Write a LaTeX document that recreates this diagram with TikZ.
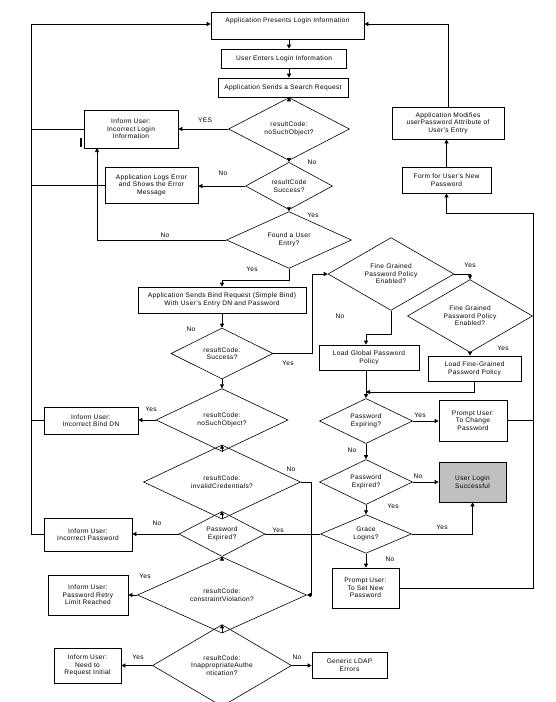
\documentclass[tikz,border=0pt]{standalone}
\usepackage{fontspec}
\setmainfont{Liberation Sans}[LetterSpace=5]
\usetikzlibrary{arrows.meta,shapes.geometric}
\begin{document}
\begin{tikzpicture}[x=1pt,y=-1pt,
  font=\fontsize{6.6}{7.6}\selectfont,
  line width=0.7pt,
  box/.style={draw, rectangle, align=center, inner sep=1pt},
  dia/.style={draw, diamond, align=center, inner sep=0pt, line width=0.6pt},
  lbl/.style={inner sep=0pt},
  arr/.style={-{Triangle[length=4pt,width=4pt]}},
]
\useasboundingbox[fill=white] (0,0) rectangle (555,702);

% ---------- boxes ----------
\node[box, minimum width=153pt, inner ysep=2pt, text height=8.5pt, text depth=14.5pt] (top) at (287.5,25.5) {Application Presents Login Information};
\node[box, minimum width=125pt, minimum height=19pt] (userEnters) at (284,58.5) {User Enters Login Information};
\node[box, minimum width=130pt, minimum height=19pt] (appSends) at (283,87.5) {Application Sends a Search Request};
\node[box, minimum width=94pt, minimum height=38pt] (incLogin) at (131,129) {Inform User:\\Incorrect Login\\Information};
\node[box, minimum width=93pt, minimum height=36pt] (appLogs) at (151.5,185) {Application Logs Error\\and Shows the Error\\Message};
\node[box, minimum width=168pt, minimum height=26pt] (bind) at (222,300) {Application Sends Bind Request (Simple Bind)\\With User's Entry DN and Password};
\node[box, minimum width=100pt, minimum height=25pt] (loadGlobal) at (369,357.5) {Load Global Password\\Policy};
\node[box, minimum width=93pt, minimum height=25pt] (loadFG) at (474.5,368.5) {Load Fine-Grained\\Password Policy};
\node[box, minimum width=68pt, minimum height=41pt] (promptChange) at (473,420.5) {Prompt User:\\To Change\\Password};
\node[box, minimum width=67pt, minimum height=40pt, fill={rgb,255:red,192;green,192;blue,192}] (userLogin) at (472.5,482) {User Login\\Successful};
\node[box, minimum width=67pt, minimum height=40pt] (promptSet) at (365.5,588) {Prompt User:\\To Set New\\Password};
\node[box, minimum width=112pt, minimum height=32pt] (appModifies) at (448,123) {Application Modifies\\userPassword Attribute of\\User's Entry};
\node[box, minimum width=89pt, minimum height=26pt] (form) at (446.5,180) {Form for User's New\\Password};
\node[box, minimum width=94pt, minimum height=27pt] (incBindDN) at (91,420.5) {Inform User:\\Incorrect Bind DN};
\node[box, minimum width=88pt, minimum height=33pt] (incPassword) at (88,534.5) {Inform User:\\Incorrect Password};
\node[box, minimum width=80pt, minimum height=40pt] (retry) at (88,595) {Inform User:\\Password Retry\\Limit Reached};
\node[box, minimum width=67pt, minimum height=35pt] (needInitial) at (87.5,665.5) {Inform User:\\Need to\\Request Initial};
\node[box, minimum width=75pt, minimum height=26pt] (generic) at (349.5,665) {Generic LDAP\\Errors};

% ---------- diamonds ----------
\node[dia, minimum width=121pt, minimum height=42pt] (d1) at (289,129) {resultCode:\\noSuchObject?};
\node[dia, minimum width=87pt, minimum height=47pt] (d2) at (289,186) {resultCode\\Success?};
\node[dia, minimum width=125pt, minimum height=40pt] (d3) at (289,240) {Found a User\\Entry?};
\node[dia, minimum width=102pt, minimum height=51pt] (d4) at (222,353.5) {resultCode:\\Success?};
\node[dia, minimum width=126pt, minimum height=58pt] (fg1) at (391,274) {Fine Grained\\Password Policy\\Enabled?};
\node[dia, minimum width=125pt, minimum height=58pt] (fg2) at (470,316) {Fine Grained\\Password Policy\\Enabled?};
\node[dia, minimum width=93pt, minimum height=40pt] (pwExpiring) at (366,421) {Password\\Expiring?};
\node[dia, minimum width=93pt, minimum height=42pt] (pwExpired) at (366,482) {Password\\Expired?};
\node[dia, minimum width=91pt, minimum height=38pt] (grace) at (366,534) {Grace\\Logins?};
\node[dia, minimum width=132pt, minimum height=54pt] (nso2) at (222,420) {resultCode:\\noSuchObject?};
\node[dia, minimum width=157pt, minimum height=42pt] (ic) at (222,482) {resultCode:\\invalidCredentials?};
\node[dia, minimum width=86pt, minimum height=40pt] (pe2) at (222,534) {Password\\Expired?};
\node[dia, minimum width=169pt, minimum height=53pt] (cv) at (222,595) {resultCode:\\constraintViolation?};
\node[dia, minimum width=139pt, minimum height=59pt] (ia) at (222,665.5) {resultCode:\\InappropriateAuthe\\ntication?};

% ---------- helper coordinates ----------
\coordinate (busTop) at (31,24);
\coordinate (c97) at (97,148);
\coordinate (join) at (366,392);
\coordinate (rb) at (533,213);

% ---------- connectors: main column ----------
\draw[arr] (top.south -| d1) -- (userEnters.north -| d1);
\draw[arr] (userEnters.south -| d1) -- (appSends.north -| d1);
\draw[arr] (appSends.south -| d1) -- (d1.north);
\draw[arr] (d1.west) -- (incLogin.east);
\draw[arr] (d1.south) -- (d2.north);
\draw[arr] (d2.west) -- (d2.west -| appLogs.east);
\draw[arr] (d2.south) -- (d3.north);
\draw[arr] (d3.west) -| (c97);
\draw[arr] (d3.south) -- ++(0,12) -| (bind.north);
\draw[arr] (bind.south) -- (d4.north);
\draw[arr] (d4.east) -- ++(39,0) |- (fg1.west);
\draw[arr] (fg1.east) -| (fg2.north);
\draw[arr] (fg1.south) -- ++(0,24) -| (pwExpiring.north |- loadGlobal.north);
\draw[arr] (fg2.south) -- (fg2.south |- loadFG.north);
\draw[arr] (loadGlobal.south -| pwExpiring) -- (pwExpiring.north);
\draw[arr] (loadFG.south) |- (join);
\draw[arr] (pwExpiring.east) -- (pwExpiring.east -| promptChange.west);
\draw (promptChange.east) -- (promptChange.east -| rb);
\draw[arr] (pwExpiring.south) -- (pwExpired.north);
\draw[arr] (pwExpired.east) -- (pwExpired.east -| userLogin.west);
\draw[arr] (pwExpired.south) -- (grace.north);
\draw[arr] (grace.east) -| (userLogin.south);
\draw[arr] (grace.south) -- (grace.south |- promptSet.north);
\draw[arr] (promptSet.east) -| (rb) -| (form.south);
\draw[arr] (form.north) -- (form.north |- appModifies.south);
\draw[arr] (appModifies.north) |- (busTop -| top.east);

% ---------- left column ----------
\draw[arr] (d4.south) -- (nso2.north);
\draw[arr] (nso2.west) -- (nso2.west -| incBindDN.east);
\draw[arr] (nso2.south) -- (ic.north);
\draw[arr] (ic.east) -- ++(11,0) |- (cv.east);
\draw[arr] (ic.south) -- (pe2.north);
\draw[arr] (pe2.west) -- (pe2.west -| incPassword.east);
\draw (pe2.east) -- (grace.west);
\draw[arr] (pe2.south) -- (cv.north);
\draw[arr] (cv.west) -- (cv.west -| retry.east);
\draw[arr] (cv.south) -- (ia.north);
\draw[arr] (ia.west) -- (ia.west -| needInitial.east);
\draw[arr] (ia.east) -- (ia.east -| generic.west);

% ---------- left bus ----------
\draw (incLogin.west) -- (incLogin.west -| busTop);
\draw (appLogs.west) -- (appLogs.west -| busTop);
\draw (incBindDN.west) -- (incBindDN.west -| busTop);
\draw[arr] (incPassword.west) -| (busTop) -- (busTop -| top.west);

% small bar mark
\draw[line width=1.8pt] (81,138) -- (81,147);

% ---------- labels ----------
\node[lbl] (lYES) at (205,120) {YES};
\node[lbl] (lNo1) at (312,162) {No};
\node[lbl] (lNo2) at (223,173) {No};
\node[lbl] (lYes1) at (313,215) {Yes};
\node[lbl] (lNo3) at (165,235) {No};
\node[lbl] (lYes2) at (252,269) {Yes};
\node[lbl] (lNo4) at (191,329) {No};
\node[lbl] (lYes3) at (288,363) {Yes};
\node[lbl] (lNo5) at (340,316) {No};
\node[lbl] (lYes4) at (470,265) {Yes};
\node[lbl] (lYes5) at (503,348) {Yes};
\node[lbl] (lYes6) at (151,409) {Yes};
\node[lbl] (lNo6) at (291,469) {No};
\node[lbl] (lNo7) at (157,523) {No};
\node[lbl] (lYes7) at (278,530) {Yes};
\node[lbl] (lYes8) at (145,576) {Yes};
\node[lbl] (lYes9) at (138,657) {Yes};
\node[lbl] (lNo8) at (297,657) {No};
\node[lbl] (lYes10) at (420,415) {Yes};
\node[lbl] (lNo9) at (352,450) {No};
\node[lbl] (lNo10) at (418,476) {No};
\node[lbl] (lYes11) at (393,506) {Yes};
\node[lbl] (lYes12) at (442,527) {Yes};
\node[lbl] (lNo11) at (390,559) {No};
\end{tikzpicture}
\end{document}
